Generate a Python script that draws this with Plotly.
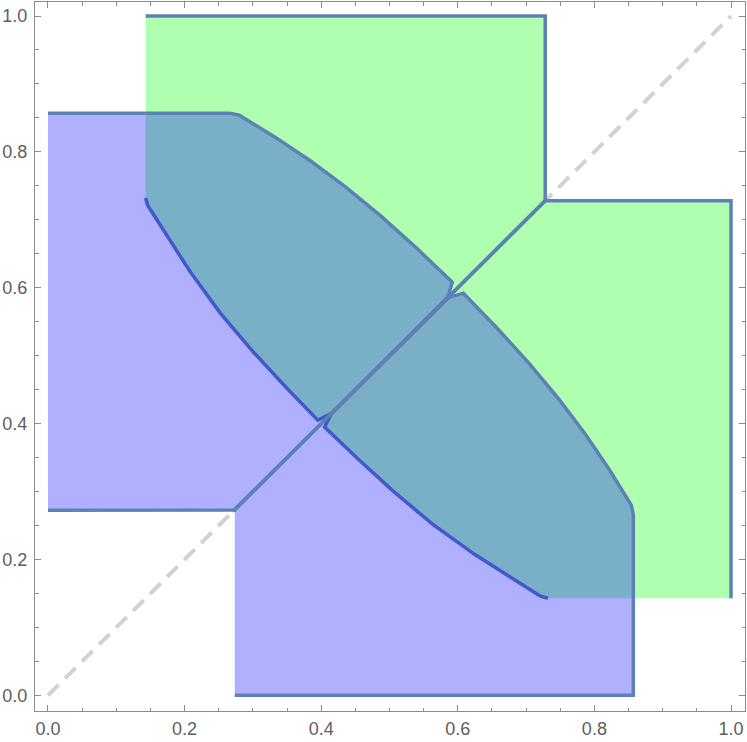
import plotly.graph_objects as go

# ---- data ----
# reference diagonal
diag_x = [0.0, 1.0]
diag_y = [0.0, 1.0]

# blue region, piece above the diagonal (y > x)
blue_upper_x = [0.000, 0.270, 0.2727, 0.585, 0.592, 0.540, 0.488, 0.436, 0.384, 0.332, 0.280, 0.266, 0.000]
blue_upper_y = [0.2725, 0.2725, 0.2727, 0.585, 0.608, 0.658, 0.705, 0.748, 0.787, 0.822, 0.854, 0.857, 0.857]

# blue region, piece below the diagonal (x > y)
blue_lower_x = [0.2735, 0.857, 0.857, 0.854, 0.822, 0.787, 0.748, 0.705, 0.658, 0.608, 0.585, 0.2727, 0.2735]
blue_lower_y = [0.000, 0.000, 0.266, 0.280, 0.332, 0.384, 0.436, 0.488, 0.540, 0.592, 0.585, 0.2727, 0.270]

# green region, piece above the diagonal (y > x)
green_upper_x = [0.143, 0.728, 0.728, 0.415, 0.395, 0.348, 0.301, 0.252, 0.208, 0.169, 0.146, 0.143]
green_upper_y = [1.000, 1.000, 0.7275, 0.415, 0.405, 0.454, 0.505, 0.563, 0.624, 0.684, 0.721, 0.732]

# green region, piece below the diagonal (x > y)
green_lower_x = [1.000, 1.000, 0.7275, 0.415, 0.405, 0.454, 0.505, 0.563, 0.624, 0.684, 0.721, 0.732]
green_lower_y = [0.143, 0.728, 0.728, 0.415, 0.395, 0.348, 0.301, 0.252, 0.208, 0.169, 0.146, 0.143]

x_ticks = [0.0, 0.2, 0.4, 0.6, 0.8, 1.0]
x_tick_labels = ["0.0", "0.2", "0.4", "0.6", "0.8", "1.0"]
y_ticks = [0.0, 0.2, 0.4, 0.6, 0.8, 1.0]
y_tick_labels = ["0.0", "0.2", "0.4", "0.6", "0.8", "1.0"]

EDGE = "rgb(94,129,181)"
GREEN_FILL = "rgba(0,255,0,0.31)"
BLUE_FILL = "rgba(0,0,255,0.31)"

fig = go.Figure()

# dashed reference line (under the regions)
fig.add_trace(go.Scatter(x=diag_x, y=diag_y, mode="lines",
                         line=dict(color="#d2d2d2", width=4, dash="15px,9px"),
                         hoverinfo="skip", showlegend=False))

pieces = [(green_upper_x, green_upper_y), (green_lower_x, green_lower_y),
          (blue_upper_x, blue_upper_y), (blue_lower_x, blue_lower_y)]

# opaque white under-layer so the dashed line does not show through
for px, py in pieces:
    fig.add_trace(go.Scatter(x=px, y=py, mode="none", fill="toself",
                             fillcolor="white", hoverinfo="skip", showlegend=False))

for (px, py), fc in zip(pieces, [GREEN_FILL, GREEN_FILL, BLUE_FILL, BLUE_FILL]):
    fig.add_trace(go.Scatter(x=px, y=py, mode="lines", fill="toself",
                             fillcolor=fc, line=dict(color=EDGE, width=3.5),
                             hoverinfo="skip", showlegend=False))

axis_common = dict(
    showline=True, linecolor="#8c8c8c", linewidth=1, mirror="allticks",
    ticks="inside", ticklen=6, tickwidth=1, tickcolor="#8c8c8c",
    showgrid=False, zeroline=False, automargin=False,
    tickfont=dict(family="Liberation Sans, Arial, sans-serif", size=18, color="#5e5e5e"),
    minor=dict(dtick=0.05, ticks="inside", ticklen=3.5, tickcolor="#8c8c8c", showgrid=False),
)

fig.update_xaxes(range=[-0.019, 1.0205], tickvals=x_ticks, ticktext=x_tick_labels,
                 ticklabelstandoff=1, **axis_common)
fig.update_yaxes(range=[-0.023, 1.0206], tickvals=y_ticks, ticktext=y_tick_labels,
                 ticklabelstandoff=3, **axis_common)

fig.update_layout(
    width=747, height=742,
    margin=dict(l=35, r=2, t=2, b=31, autoexpand=False),
    paper_bgcolor="white", plot_bgcolor="white",
    showlegend=False,
)

fig.write_html("out.html", config={"displayModeBar": False},
               post_script="document.body.style.margin='0px';document.body.style.overflow='hidden';")
